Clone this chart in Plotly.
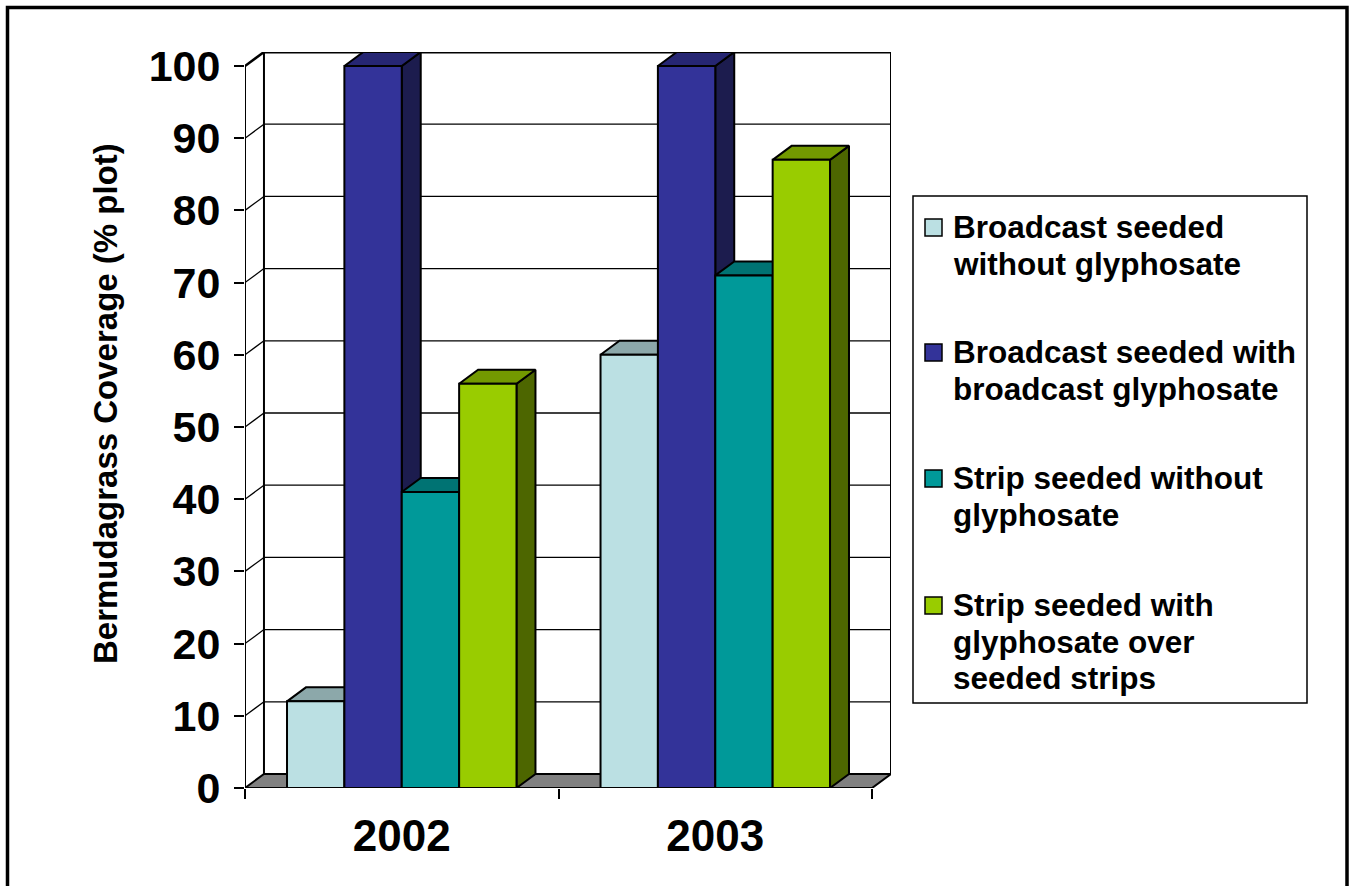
import plotly.graph_objects as go

# ---------------- data ----------------
categories = ["2002", "2003"]
series_names = [
    "Broadcast seeded without glyphosate",
    "Broadcast seeded with broadcast glyphosate",
    "Strip seeded without glyphosate",
    "Strip seeded with glyphosate over seeded strips",
]
legend_lines = [
    ["Broadcast seeded", "without glyphosate"],
    ["Broadcast seeded with", "broadcast glyphosate"],
    ["Strip seeded without", "glyphosate"],
    ["Strip seeded with", "glyphosate over", "seeded strips"],
]
broadcast_without_gly = [12, 60]
broadcast_with_gly = [100, 100]
strip_without_gly = [41, 71]
strip_with_gly = [56, 87]
y_tick_values = [0, 10, 20, 30, 40, 50, 60, 70, 80, 90, 100]
y_title = "Bermudagrass Coverage (% plot)"

series_values = [broadcast_without_gly, broadcast_with_gly, strip_without_gly, strip_with_gly]

# ---------------- style ----------------
front_colors = ["#BBE0E3", "#333399", "#009999", "#99CC00"]
top_colors = ["#8CA8AA", "#262673", "#007373", "#739900"]
side_colors = ["#5E7072", "#1C1C4E", "#004D4D", "#4D6600"]

W, H = 1351, 886
PL, PR, PT, PB = 245, 891, 52, 788  # plot-area pixel box
DX = 0.0605   # depth offset, x units
DY = 1.94     # depth offset, y units
BAR_W = 0.183
X0, X1 = -0.5, len(categories) - 0.5
YMAX = max(y_tick_values)
FONT = "Liberation Sans, Arial, sans-serif"


def pxx(px):
    return (px - PL) / (PR - PL)


def pxy(py):
    return (PB - py) / (PB - PT)


fig = go.Figure()


def poly(xs, ys, fill, width=2):
    fig.add_trace(go.Scatter(
        x=xs + [xs[0]], y=ys + [ys[0]], mode="lines", fill="toself",
        fillcolor=fill, line=dict(color="black", width=width),
        hoverinfo="skip", showlegend=False))


# floor
poly([X0, X1, X1 + DX, X0 + DX], [0, 0, DY, DY], "#808080")

# bars (front + top + side faces)
for ci in range(len(categories)):
    for si, vals in enumerate(series_values):
        v = vals[ci]
        xl = ci - 2 * BAR_W + si * BAR_W
        xr = xl + BAR_W
        poly([xr, xr + DX, xr + DX, xr], [0, DY, v + DY, v], side_colors[si])
        poly([xl, xr, xr + DX, xl + DX], [v, v, v + DY, v + DY], top_colors[si])
        poly([xl, xr, xr, xl], [0, 0, v, v], front_colors[si])

shapes = []
# back-wall gridlines and left-wall diagonals
for v in y_tick_values[1:]:
    w = 3 if v == YMAX else 1.3
    shapes.append(dict(type="line", xref="x", yref="y", x0=X0 + DX, x1=X1 + DX,
                       y0=v + DY, y1=v + DY, line=dict(color="black", width=w), layer="below"))
    shapes.append(dict(type="line", xref="x", yref="y", x0=X0, x1=X0 + DX,
                       y0=v, y1=v + DY, line=dict(color="black", width=2.5 if v == YMAX else 1.3),
                       layer="below"))
# wall verticals
for (xa, ya0) in [(X0, 0), (X0 + DX, DY), (X1 + DX, DY)]:
    shapes.append(dict(type="line", xref="x", yref="y", x0=xa, x1=xa, y0=ya0, y1=ya0 + YMAX,
                       line=dict(color="black", width=2), layer="below"))

# legend (manual)
LEG_BOX = (913, 196, 1307, 703)
shapes.append(dict(type="rect", xref="paper", yref="paper",
                   x0=pxx(LEG_BOX[0]), x1=pxx(LEG_BOX[2]), y0=pxy(LEG_BOX[3]), y1=pxy(LEG_BOX[1]),
                   line=dict(color="black", width=1.5), fillcolor="white"))
item_y = [227, 352, 478, 605]
line_gap = 36.5
annotations = []
for i, lines in enumerate(legend_lines):
    cy = item_y[i]
    shapes.append(dict(type="rect", xref="paper", yref="paper",
                       x0=pxx(925), x1=pxx(942), y0=pxy(cy + 9), y1=pxy(cy - 8),
                       line=dict(color="black", width=1.5), fillcolor=front_colors[i]))
    for j, t in enumerate(lines):
        annotations.append(dict(
            text=t, xref="paper", yref="paper", x=pxx(951), y=pxy(cy + j * line_gap),
            xanchor="left", yanchor="middle", showarrow=False,
            font=dict(family=FONT, size=31.5, color="black", weight="bold")))

# outer border
shapes.append(dict(type="rect", xref="paper", yref="paper",
                   x0=pxx(7.5), x1=pxx(1347), y0=pxy(900), y1=pxy(7.5),
                   line=dict(color="black", width=3.5), fillcolor="rgba(0,0,0,0)"))

# y axis title
annotations.append(dict(
    text=y_title, xref="paper", yref="paper", x=pxx(105), y=pxy(404),
    textangle=-90, showarrow=False, xanchor="center", yanchor="middle",
    font=dict(family=FONT, size=33, color="black", weight="bold")))

fig.update_layout(
    width=W, height=H,
    margin=dict(l=PL, r=W - PR, t=PT, b=H - PB, pad=0),
    paper_bgcolor="white", plot_bgcolor="white",
    showlegend=False,
    shapes=shapes, annotations=annotations,
    xaxis=dict(range=[X0, X1 + DX], tickmode="array", tickvals=list(range(len(categories))),
               ticktext=categories, ticks="", showgrid=False, zeroline=False, showline=False,
               tickfont=dict(family=FONT, size=44, color="black", weight="bold"),
               ticklabelstandoff=18, automargin=False, fixedrange=True,
               minor=dict(tickmode="array", tickvals=[X0 + k for k in range(len(categories) + 1)],
                          ticks="outside", ticklen=10, tickwidth=2, tickcolor="black")),
    yaxis=dict(range=[0, YMAX + DY], tickmode="array", tickvals=y_tick_values,
               ticks="outside", ticklen=10, tickwidth=2, tickcolor="black",
               showgrid=False, zeroline=False, showline=False,
               tickfont=dict(family=FONT, size=43, color="black", weight="bold"),
               ticklabelstandoff=5, automargin=False, fixedrange=True),
)

fig.write_html("out.html")
